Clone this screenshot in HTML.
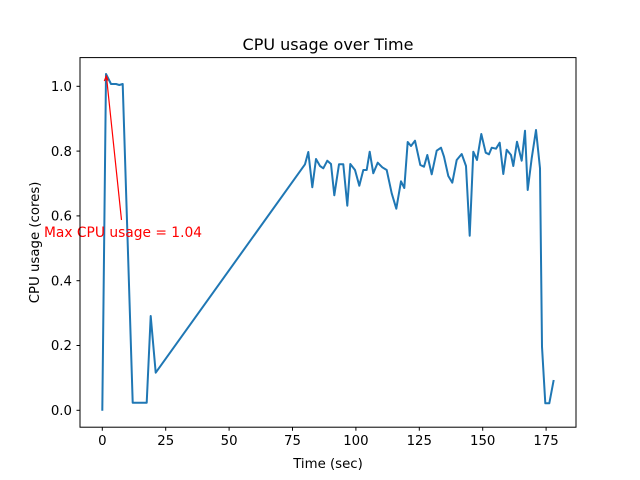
<!DOCTYPE html>
<html><head><meta charset="utf-8"><style>body{margin:0;background:#fff}svg{display:block}text{font-family:"DejaVu Sans","Liberation Sans",sans-serif}</style></head>
<body>
<svg width="640" height="480" viewBox="0 0 640 480" xmlns="http://www.w3.org/2000/svg">
<rect width="640" height="480" fill="#fff"/>
<polyline fill="none" stroke="#1f77b4" stroke-width="2" stroke-linejoin="round" points="102.3,410.7 106,74 111,84 116,84 119.3,85 122.7,84 132.7,402.7 146.7,402.7 150.7,316 155.7,372.7 305,164.3 308.3,152 312.3,187.3 316,159 320,166 323.3,168.3 327.3,160.7 331,164 334.3,195.3 339,164.3 343.3,164.3 347.3,205.7 350.3,164 355,170 359.3,185.7 363.3,170 366.7,170 369.7,151.7 373.3,173.3 377.7,162.7 382.3,167.3 386.7,170 391.7,193.3 396.3,208.7 401,181.3 404.3,188 407.7,142 411,146 415,140.7 420.3,165 424,166.7 427.3,155 431.7,174.3 436.7,150.7 441,147.7 444,156.7 448.3,176 452.3,182.7 456.7,160 461.7,154 466,166 469.7,235.7 473.3,151.7 477,160 481.3,134 485.7,152.7 489,154.3 491.7,147.7 496,148.7 499.7,142.7 503.3,174 506.7,149.7 511,155 513.3,166 517,141.7 521.7,160.7 525,130.7 527.7,190 531.7,158.3 536,130 540,168.3 542,346.7 545.3,403.3 549.3,403.3 553.7,380"/>
<line x1="121.5" y1="220" x2="106.5" y2="77" stroke="red" stroke-width="1.2"/>
<polyline points="104.3,81 106.3,76 108,80.5" fill="none" stroke="red" stroke-width="1.2"/>
<text x="44" y="237" font-size="13.8" fill="red">Max CPU usage = 1.04</text>
<rect x="80" y="57.6" width="496" height="369.6" fill="none" stroke="#000" stroke-width="1"/>
<g stroke="#000" stroke-width="1">
<line x1="102.3" y1="427.2" x2="102.3" y2="430.7"/><line x1="165.7" y1="427.2" x2="165.7" y2="430.7"/><line x1="229.1" y1="427.2" x2="229.1" y2="430.7"/><line x1="292.5" y1="427.2" x2="292.5" y2="430.7"/><line x1="355.9" y1="427.2" x2="355.9" y2="430.7"/><line x1="419.3" y1="427.2" x2="419.3" y2="430.7"/><line x1="482.7" y1="427.2" x2="482.7" y2="430.7"/><line x1="546.1" y1="427.2" x2="546.1" y2="430.7"/>
<line x1="76.5" y1="410.3" x2="80" y2="410.3"/><line x1="76.5" y1="345.5" x2="80" y2="345.5"/><line x1="76.5" y1="280.7" x2="80" y2="280.7"/><line x1="76.5" y1="215.9" x2="80" y2="215.9"/><line x1="76.5" y1="151.1" x2="80" y2="151.1"/><line x1="76.5" y1="86.3" x2="80" y2="86.3"/>
</g>
<g font-size="13.3" text-anchor="middle" fill="#000">
<text x="102.3" y="445">0</text><text x="165.7" y="445">25</text><text x="229.1" y="445">50</text><text x="292.5" y="445">75</text><text x="355.9" y="445">100</text><text x="419.3" y="445">125</text><text x="482.7" y="445">150</text><text x="546.1" y="445">175</text>
</g>
<g font-size="13.3" text-anchor="end" fill="#000">
<text x="72" y="415">0.0</text><text x="72" y="350">0.2</text><text x="72" y="285.5">0.4</text><text x="72" y="220.7">0.6</text><text x="72" y="155.9">0.8</text><text x="72" y="91.1">1.0</text>
</g>
<text x="328" y="468" font-size="13.3" text-anchor="middle">Time (sec)</text>
<text transform="translate(39,242.4) rotate(-90)" font-size="13.3" text-anchor="middle">CPU usage (cores)</text>
<text x="328" y="50" font-size="16" text-anchor="middle">CPU usage over Time</text>
</svg>
</body></html>
